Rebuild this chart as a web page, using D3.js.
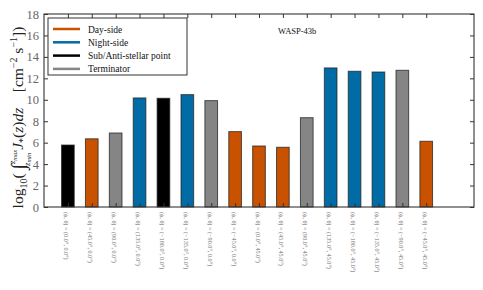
<!DOCTYPE html>
<html>
<head>
<meta charset="utf-8">
<script src="https://cdn.jsdelivr.net/npm/d3@7"></script>
<style>
  body { margin: 0; background: #fff; }
  svg { font-family: "Liberation Serif", "DejaVu Serif", serif; }
</style>
</head>
<body>
<div id="chart"></div>
<script>
// data
const labels = [
  '(\u03d5, \u03b8) = (0.0\u00b0, 0.0\u00b0)',
  '(\u03d5, \u03b8) = (45.0\u00b0, 0.0\u00b0)',
  '(\u03d5, \u03b8) = (90.0\u00b0, 0.0\u00b0)',
  '(\u03d5, \u03b8) = (135.0\u00b0, 0.0\u00b0)',
  '(\u03d5, \u03b8) = (\u2212180.0\u00b0, 0.0\u00b0)',
  '(\u03d5, \u03b8) = (\u2212135.0\u00b0, 0.0\u00b0)',
  '(\u03d5, \u03b8) = (\u221290.0\u00b0, 0.0\u00b0)',
  '(\u03d5, \u03b8) = (\u221245.0\u00b0, 0.0\u00b0)',
  '(\u03d5, \u03b8) = (0.0\u00b0, 45.0\u00b0)',
  '(\u03d5, \u03b8) = (45.0\u00b0, 45.0\u00b0)',
  '(\u03d5, \u03b8) = (90.0\u00b0, 45.0\u00b0)',
  '(\u03d5, \u03b8) = (135.0\u00b0, 45.0\u00b0)',
  '(\u03d5, \u03b8) = (\u2212180.0\u00b0, 45.0\u00b0)',
  '(\u03d5, \u03b8) = (\u2212135.0\u00b0, 45.0\u00b0)',
  '(\u03d5, \u03b8) = (\u221290.0\u00b0, 45.0\u00b0)',
  '(\u03d5, \u03b8) = (\u221245.0\u00b0, 45.0\u00b0)'
];
const values = [5.78, 6.36, 6.9, 10.17, 10.14, 10.48, 9.92, 7.03,
                5.69, 5.57, 8.33, 12.97, 12.66, 12.59, 12.75, 6.13];
const regions = ['sub', 'day', 'term', 'night', 'sub', 'night', 'term', 'day',
                 'day', 'day', 'term', 'night', 'night', 'night', 'term', 'day'];
const legendKeys = ['day', 'night', 'sub', 'term'];
const legendNames = ['Day-side', 'Night-side', 'Sub/Anti-stellar point', 'Terminator'];
const yTicks = [0, 2, 4, 6, 8, 10, 12, 14, 16, 18];
const title = 'WASP-43b';

const colors = { day: '#c85200', night: '#006ba4', sub: '#000000', term: '#858585' };

const width = 483, height = 290;
const margin = { top: 14, right: 9, bottom: 83, left: 44 };
const w = width - margin.left - margin.right;
const h = height - margin.top - margin.bottom;

const svg = d3.select('#chart').append('svg')
    .attr('width', width)
    .attr('height', height);

const x = d3.scaleLinear().domain([0, 18]).range([0, w]);
const y = d3.scaleLinear().domain([0, 18]).range([h, 0]);
const barW = x(0.53) - x(0);

const g = svg.append('g')
    .attr('transform', `translate(${margin.left},${margin.top})`);

// bars
g.selectAll('.bar')
    .data(values)
    .enter().append('rect')
    .attr('class', 'bar')
    .attr('x', (d, i) => x(i + 1) - barW / 2)
    .attr('y', d => y(d))
    .attr('width', barW)
    .attr('height', d => y(0) - y(d))
    .attr('fill', (d, i) => colors[regions[i]])
    .attr('stroke', '#222')
    .attr('stroke-opacity', 0.75)
    .attr('stroke-width', 1);

// frame
g.append('rect')
    .attr('width', w)
    .attr('height', h)
    .attr('fill', 'none')
    .attr('stroke', '#333')
    .attr('stroke-width', 1.1);

const idx = d3.range(1, 17);

// axes, ticks pointing inward
g.append('g')
    .attr('transform', `translate(0,${h})`)
    .call(d3.axisBottom(x).tickValues(idx).tickSizeInner(-4).tickSizeOuter(0).tickFormat(''))
    .call(s => s.select('.domain').remove());
g.append('g')
    .call(d3.axisTop(x).tickValues(idx).tickSizeInner(-4).tickSizeOuter(0).tickFormat(''))
    .call(s => s.select('.domain').remove());
g.append('g')
    .attr('transform', `translate(${w},0)`)
    .call(d3.axisRight(y).tickValues(yTicks).tickSizeInner(-4).tickSizeOuter(0).tickFormat(''))
    .call(s => s.select('.domain').remove());
const yAxis = g.append('g')
    .call(d3.axisLeft(y).tickValues(yTicks).tickSizeInner(-4).tickSizeOuter(0).tickPadding(5))
    .call(s => s.select('.domain').remove());
yAxis.selectAll('text')
    .attr('font-family', '"Liberation Serif", serif')
    .attr('font-size', 12.5)
    .attr('fill', '#666');
g.selectAll('.tick line').attr('stroke', '#333');

// rotated category labels
g.selectAll('.xlab')
    .data(labels)
    .enter().append('text')
    .attr('class', 'xlab')
    .attr('transform', (d, i) => `translate(${x(i + 1) - 2},${h + 5}) rotate(90)`)
    .attr('font-size', 6.2)
    .attr('fill', '#777')
    .attr('dominant-baseline', 'middle')
    .text(d => d);

// title
g.append('text')
    .attr('x', x(9.8))
    .attr('y', 20)
    .attr('font-size', 8.5)
    .attr('fill', '#111')
    .text(title);

// legend
const leg = g.append('g').attr('transform', 'translate(4,4)');
leg.append('rect')
    .attr('width', 139)
    .attr('height', 57)
    .attr('fill', '#fff')
    .attr('stroke', '#333')
    .attr('stroke-width', 1);
legendKeys.forEach((k, i) => {
    const yy = 11 + i * 13.3;
    leg.append('line')
        .attr('x1', 5).attr('x2', 32)
        .attr('y1', yy).attr('y2', yy)
        .attr('stroke', colors[k])
        .attr('stroke-width', 2.5);
    leg.append('text')
        .attr('x', 40)
        .attr('y', yy + 3.5)
        .attr('font-size', 9.5)
        .attr('fill', '#111')
        .text(legendNames[i]);
});

// y label (math typeset by hand)
const yl = svg.append('text')
    .attr('transform', `translate(23,${margin.top + h / 2 + 7}) rotate(-90)`)
    .attr('text-anchor', 'middle')
    .attr('font-size', 15.5)
    .attr('fill', '#222');
yl.append('tspan').text('log');
yl.append('tspan').attr('font-size', 10).attr('dy', 4).text('10');
yl.append('tspan').attr('dy', -4).text('( ');
yl.append('tspan').attr('font-size', 20).attr('dy', 2).text('\u222b');
yl.append('tspan').attr('font-size', 8.5).attr('font-style', 'italic').attr('dy', -10).text('z');
yl.append('tspan').attr('font-size', 6.5).attr('font-style', 'italic').attr('dy', 1.5).text('max');
yl.append('tspan').attr('font-size', 8.5).attr('font-style', 'italic').attr('dx', -16).attr('dy', 13).text('z');
yl.append('tspan').attr('font-size', 6.5).attr('font-style', 'italic').attr('dy', 1.5).text('min');
yl.append('tspan').attr('font-style', 'italic').attr('dx', 3).attr('dy', -8.5).text('J');
yl.append('tspan').attr('font-size', 10).attr('dy', 3).text('*');
yl.append('tspan').attr('dy', -3).text('(');
yl.append('tspan').attr('font-style', 'italic').text('z');
yl.append('tspan').text(')');
yl.append('tspan').attr('font-style', 'italic').text('dz');
yl.append('tspan').text('\u2003[cm');
yl.append('tspan').attr('font-size', 10).attr('dy', -6).text('\u22122');
yl.append('tspan').attr('dy', 6).text(' s');
yl.append('tspan').attr('font-size', 10).attr('dy', -6).text('\u22121');
yl.append('tspan').attr('dy', 6).text('])');
</script>
</body>
</html>
